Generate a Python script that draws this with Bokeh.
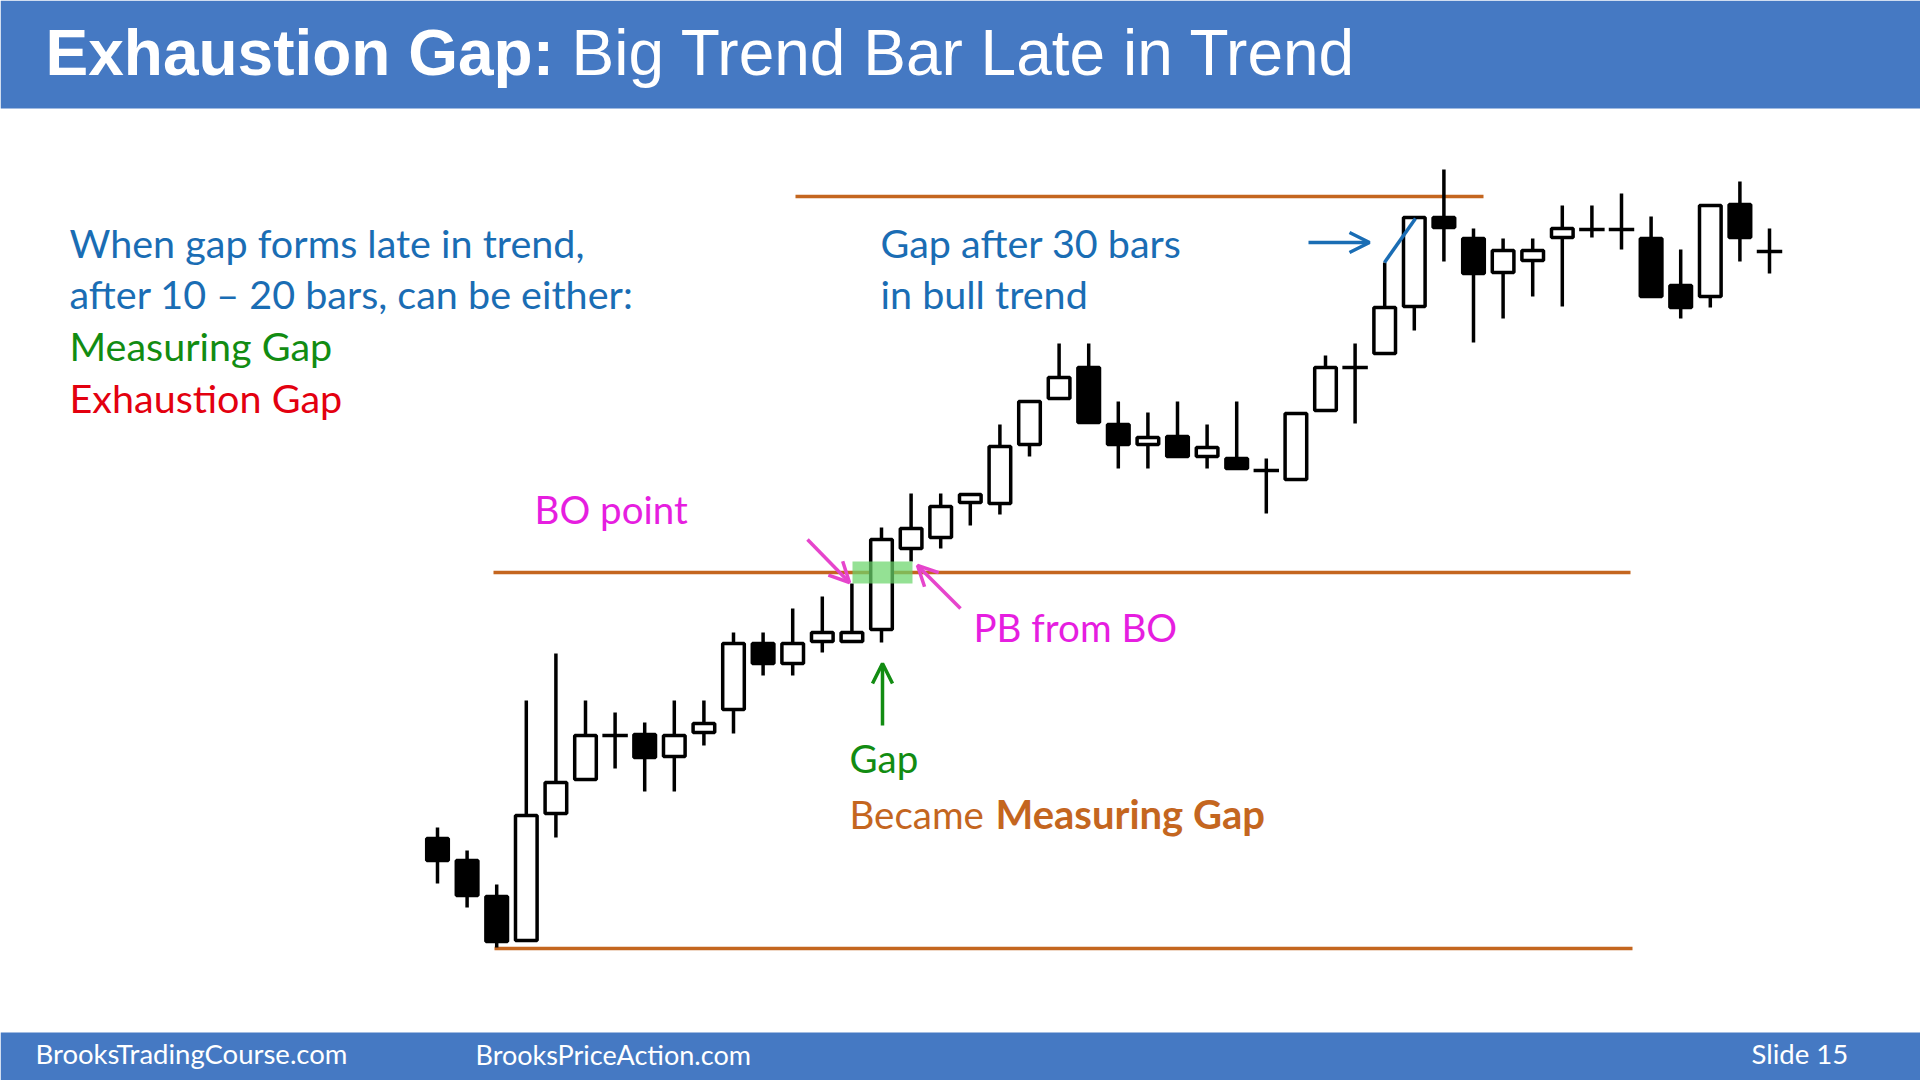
from bokeh.plotting import figure
from bokeh.models import Range1d, Label, Arrow, OpenHead
from bokeh.embed import file_html
from bokeh.resources import INLINE

# ---------------- data (price units, arbitrary) ----------------
bar_index = list(range(1, 47))
opens = [162, 140, 104, 60, 187, 221, 265, 266, 244, 268,
         291, 357, 337, 359, 359, 371, 452, 463, 498, 497,
         556, 602, 633, 576, 556, 564, 544, 542, 530, 521,
         590, 633, 647, 694, 783, 762, 728, 740, 763, 771,
         771, 762, 715, 704, 796, 749]
highs = [173, 150, 116, 300, 347, 300, 288, 278, 300, 300,
         368, 368, 392, 404, 417, 473, 507, 507, 507, 576,
         599, 657, 657, 599, 588, 599, 576, 599, 542, 587,
         645, 657, 738, 783, 831, 772, 762, 762, 795, 795,
         807, 784, 751, 795, 819, 772]
lows = [117, 93, 53, 60, 163, 221, 232, 209, 209, 255,
        267, 325, 325, 348, 359, 358, 439, 452, 475, 486,
        544, 602, 578, 532, 532, 544, 532, 532, 487, 521,
        590, 577, 647, 670, 739, 658, 682, 704, 694, 763,
        751, 704, 682, 693, 739, 727]
closes = [140, 105, 59, 185, 218, 265, 265, 243, 265, 277,
          357, 337, 357, 368, 368, 461, 472, 494, 506, 554,
          599, 623, 578, 556, 563, 544, 553, 532, 530, 587,
          633, 633, 693, 783, 773, 727, 750, 750, 772, 771,
          771, 704, 693, 795, 763, 749]

# reference price levels
top_level = 804       # top of range
bo_level = 428        # breakout point
bottom_level = 52     # bottom of range
gap_low, gap_high = 417, 439   # gap between bars

# ---------------- geometry helpers ----------------
W, H = 1920, 1080
X0, DX = 437.0, 29.6          # screen x of first bar, bar spacing


def px_x(px):
    return 1 + (px - X0) / DX


def px_y(py):
    return 1000 - py


p = figure(width=W, height=H, output_backend="svg", toolbar_location=None,
           x_range=Range1d(px_x(0), px_x(W)), y_range=Range1d(px_y(H), px_y(0)),
           min_border=0, outline_line_color=None, background_fill_color="white",
           border_fill_color="white")
p.xaxis.visible = False
p.yaxis.visible = False
p.grid.visible = False

BLUE_BAR = "#4579C3"
ORANGE = "#C4661F"
MAGENTA = "#E61EE0"
PINK = "#E645CC"
TEXT_BLUE = "#1A6DB4"
GREEN = "#128C12"
RED = "#E3000F"
BODY_FONT = "Lato"

# header and footer bars
p.quad(left=px_x(0), right=px_x(W), top=px_y(0), bottom=px_y(108),
       fill_color=BLUE_BAR, line_color=None)
p.quad(left=px_x(0), right=px_x(W), top=px_y(1032), bottom=px_y(H),
       fill_color=BLUE_BAR, line_color=None)

# horizontal levels
p.segment(x0=[px_x(795)], x1=[px_x(1483)], y0=[top_level], y1=[top_level],
          line_color=ORANGE, line_width=3.5)
p.segment(x0=[px_x(493)], x1=[px_x(1630)], y0=[bo_level], y1=[bo_level],
          line_color=ORANGE, line_width=3.5)
p.segment(x0=[px_x(494)], x1=[px_x(1632)], y0=[bottom_level], y1=[bottom_level],
          line_color=ORANGE, line_width=3.5)

# candles
p.segment(x0=bar_index, x1=bar_index, y0=lows, y1=highs,
          line_color="black", line_width=3.5)

BW = 0.73
bull = [(i, o, c) for i, o, c in zip(bar_index, opens, closes) if c > o]
bear = [(i, o, c) for i, o, c in zip(bar_index, opens, closes) if c < o]
doji = [(i, o) for i, o, c in zip(bar_index, opens, closes) if c == o]

p.vbar(x=[b[0] for b in bull], bottom=[b[1] for b in bull], top=[b[2] for b in bull],
       width=BW, fill_color="white", line_color="black", line_width=3.5)
p.vbar(x=[b[0] for b in bear], bottom=[b[2] for b in bear], top=[b[1] for b in bear],
       width=BW, fill_color="black", line_color="black", line_width=3.5)
p.segment(x0=[d[0] - 0.43 for d in doji], x1=[d[0] + 0.43 for d in doji],
          y0=[d[1] for d in doji], y1=[d[1] for d in doji],
          line_color="black", line_width=3.5)

# gap highlight
p.quad(left=px_x(852), right=px_x(912), bottom=gap_low, top=gap_high,
       fill_color="#6BD56B", fill_alpha=0.72, line_color=None)

# arrows
HEAD = 20
p.add_layout(Arrow(x_start=px_x(807), y_start=px_y(539), x_end=px_x(849), y_end=px_y(582),
                   line_color=PINK, line_width=3.5,
                   end=OpenHead(size=HEAD, line_color=PINK, line_width=3.5)))
p.add_layout(Arrow(x_start=px_x(960), y_start=px_y(608), x_end=px_x(917), y_end=px_y(565),
                   line_color=PINK, line_width=3.5,
                   end=OpenHead(size=HEAD, line_color=PINK, line_width=3.5)))
p.add_layout(Arrow(x_start=px_x(882), y_start=px_y(725), x_end=px_x(882), y_end=px_y(663),
                   line_color=GREEN, line_width=3.5,
                   end=OpenHead(size=HEAD, line_color=GREEN, line_width=3.5)))
p.add_layout(Arrow(x_start=px_x(1308), y_start=px_y(242), x_end=px_x(1369), y_end=px_y(242),
                   line_color=TEXT_BLUE, line_width=3.5,
                   end=OpenHead(size=HEAD, line_color=TEXT_BLUE, line_width=3.5)))
p.segment(x0=[px_x(1384)], x1=[px_x(1415)], y0=[px_y(262)], y1=[px_y(218)],
          line_color=TEXT_BLUE, line_width=3.5)


def label(x, baseline, text, color, size=39.5, font=BODY_FONT, style="normal"):
    # empirical correction so the glyph baseline lands on `baseline`
    y = H - baseline + 0.42 * size
    p.add_layout(Label(x=x, y=y, x_units="screen", y_units="screen",
                       text=text, text_color=color, text_font=font,
                       text_font_size=f"{size}px", text_font_style=style,
                       text_baseline="alphabetic", text_align="left"))


# title
label(45, 79, "Exhaustion Gap:", "white", size=64, font="Liberation Sans", style="bold")
label(571, 79, "Big Trend Bar Late in Trend", "white", size=64, font="Liberation Sans")

# left text block
label(69, 259, "When gap forms late in trend,", TEXT_BLUE)
label(69, 310, "after 10 \u2013 20 bars, can be either:", TEXT_BLUE)
label(69, 362, "Measuring Gap", GREEN)
label(69, 414, "Exhaustion Gap", RED)

# right text block
label(880, 259, "Gap after 30 bars", TEXT_BLUE)
label(880, 310, "in bull trend", TEXT_BLUE)

# chart annotations
label(534, 525, "BO point", MAGENTA, size=38.5)
label(973, 643, "PB from BO", MAGENTA, size=38.5)
label(849, 774, "Gap", GREEN, size=38.5)
label(849, 830, "Became", ORANGE, size=38.5)
label(995, 830, "Measuring Gap", ORANGE, size=40, style="bold")

# footer
label(35, 1065, "BrooksTradingCourse.com", "white", size=27.5)
label(475, 1065, "BrooksPriceAction.com", "white", size=27)
label(1751, 1065, "Slide  15", "white", size=27.5)

open("out.html", "w").write(file_html(p, INLINE))
